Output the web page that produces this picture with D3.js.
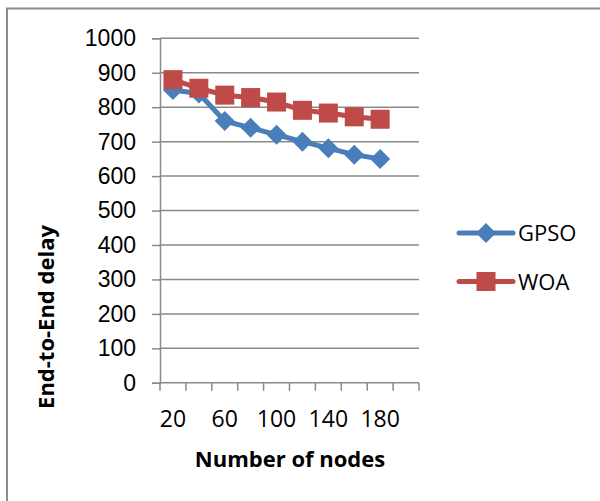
<!DOCTYPE html>
<html>
<head>
<meta charset="utf-8">
<script src="https://cdn.jsdelivr.net/npm/d3@7"></script>
<style>
  body { margin: 0; background: #fff; }
  svg { display: block; font-family: "Open Sans", "Liberation Sans", sans-serif; }
  .tick text { font-size: 23px; fill: #000; }
</style>
</head>
<body>
<div id="chart"></div>
<script>
// categories (number of nodes) - last one has no data
var nodes = [20, 40, 60, 80, 100, 120, 140, 160, 180, 200];
var gpso = [850, 840, 760, 740, 720, 700, 681, 662, 650, null];
var woa = [880, 855, 835, 828, 815, 791, 783, 772, 765, null];
var yTicks = [0, 100, 200, 300, 400, 500, 600, 700, 800, 900, 1000];
var seriesNames = ["GPSO", "WOA"];
var seriesColors = ["#4a7ebb", "#be4b48"];

var width = 600, height = 501;
var plotL = 160, plotR = 419, plotT = 38.3, plotB = 382.8;

var svg = d3.select("#chart")
    .append("svg")
    .attr("width", width)
    .attr("height", height);

// outer frame (only top and left visible in crop)
svg.append("path")
    .attr("d", "M7,501 V8.5 H600")
    .attr("fill", "none")
    .attr("stroke", "#8c8c8c")
    .attr("stroke-width", 2);

var x = d3.scaleBand()
    .domain(nodes)
    .range([plotL, plotR])
    .padding(0);

var y = d3.scaleLinear()
    .domain([0, 1000])
    .range([plotB, plotT]);

// gridlines
svg.append("g")
    .selectAll("line")
    .data(yTicks.slice(1))
    .enter()
    .append("line")
    .attr("x1", plotL)
    .attr("x2", plotR)
    .attr("y1", function(d){ return y(d); })
    .attr("y2", function(d){ return y(d); })
    .attr("stroke", "#8a8a8a")
    .attr("stroke-width", 1.5);

// y axis
var yAxis = d3.axisLeft(y)
    .tickValues(yTicks)
    .tickFormat(d3.format("d"))
    .tickSize(8)
    .tickPadding(16);

var gy = svg.append("g")
    .attr("transform", "translate(" + plotL + ",0)")
    .call(yAxis);
gy.select(".domain").attr("stroke", "#8a8a8a").attr("stroke-width", 1.5);
gy.selectAll(".tick line").attr("stroke", "#8a8a8a").attr("stroke-width", 1.5);

// x axis: ticks between categories, labels every other category
var gx = svg.append("g")
    .attr("transform", "translate(0," + plotB + ")");
gx.append("line")
    .attr("x1", plotL).attr("x2", plotR)
    .attr("stroke", "#8a8a8a").attr("stroke-width", 1.5);
var bounds = nodes.map(function(d){ return x(d); }).concat([plotR]);
gx.selectAll(".xt")
    .data(bounds)
    .enter()
    .append("line")
    .attr("class", "xt")
    .attr("x1", function(d){ return d; })
    .attr("x2", function(d){ return d; })
    .attr("y1", 0).attr("y2", 8)
    .attr("stroke", "#8a8a8a").attr("stroke-width", 1.5);
gx.selectAll(".xl")
    .data(nodes.filter(function(d, i){ return i % 2 === 0; }))
    .enter()
    .append("text")
    .attr("class", "xl")
    .attr("x", function(d){ return x(d) + x.bandwidth() / 2; })
    .attr("y", 44)
    .attr("text-anchor", "middle")
    .style("font-size", "23px")
    .text(function(d){ return d; });

// axis titles
svg.append("text")
    .attr("transform", "translate(54,317) rotate(-90)")
    .attr("text-anchor", "middle")
    .style("font-size", "22px")
    .style("font-weight", "bold")
    .text("End-to-End delay");

svg.append("text")
    .attr("x", 290)
    .attr("y", 467)
    .attr("text-anchor", "middle")
    .style("font-size", "22px")
    .style("font-weight", "bold")
    .text("Number of nodes");

// series
var allSeries = [gpso, woa];
var line = d3.line()
    .defined(function(d){ return d.v != null; })
    .x(function(d){ return x(d.n) + x.bandwidth() / 2; })
    .y(function(d){ return y(d.v); });

function marker(g, i, cx, cy) {
  if (i === 0) {
    g.append("path")
      .attr("d", "M" + cx + "," + (cy - 10) + " L" + (cx + 10) + "," + cy + " L" + cx + "," + (cy + 10) + " L" + (cx - 10) + "," + cy + "Z")
      .attr("fill", seriesColors[i]);
  } else {
    g.append("rect")
      .attr("x", cx - 9.5).attr("y", cy - 9.5)
      .attr("width", 19).attr("height", 19)
      .attr("fill", seriesColors[i]);
  }
}

allSeries.forEach(function(vals, i){
  var pts = nodes.map(function(n, j){ return {n: n, v: vals[j]}; });
  var g = svg.append("g");
  g.append("path")
    .datum(pts)
    .attr("d", line)
    .attr("fill", "none")
    .attr("stroke", seriesColors[i])
    .attr("stroke-width", 5)
    .attr("stroke-linejoin", "round");
  pts.filter(function(d){ return d.v != null; }).forEach(function(d){
    marker(g, i, x(d.n) + x.bandwidth() / 2, y(d.v));
  });
});

// legend
seriesNames.forEach(function(name, i){
  var ly = 233 + i * 48.5;
  var g = svg.append("g");
  g.append("line")
    .attr("x1", 459).attr("x2", 513)
    .attr("y1", ly).attr("y2", ly)
    .attr("stroke", seriesColors[i])
    .attr("stroke-width", 5)
    .attr("stroke-linecap", "round");
  marker(g, i, 486, ly);
  g.append("text")
    .attr("x", 518)
    .attr("y", ly + 8)
    .style("font-size", "22px")
    .text(name);
});
</script>
</body>
</html>
